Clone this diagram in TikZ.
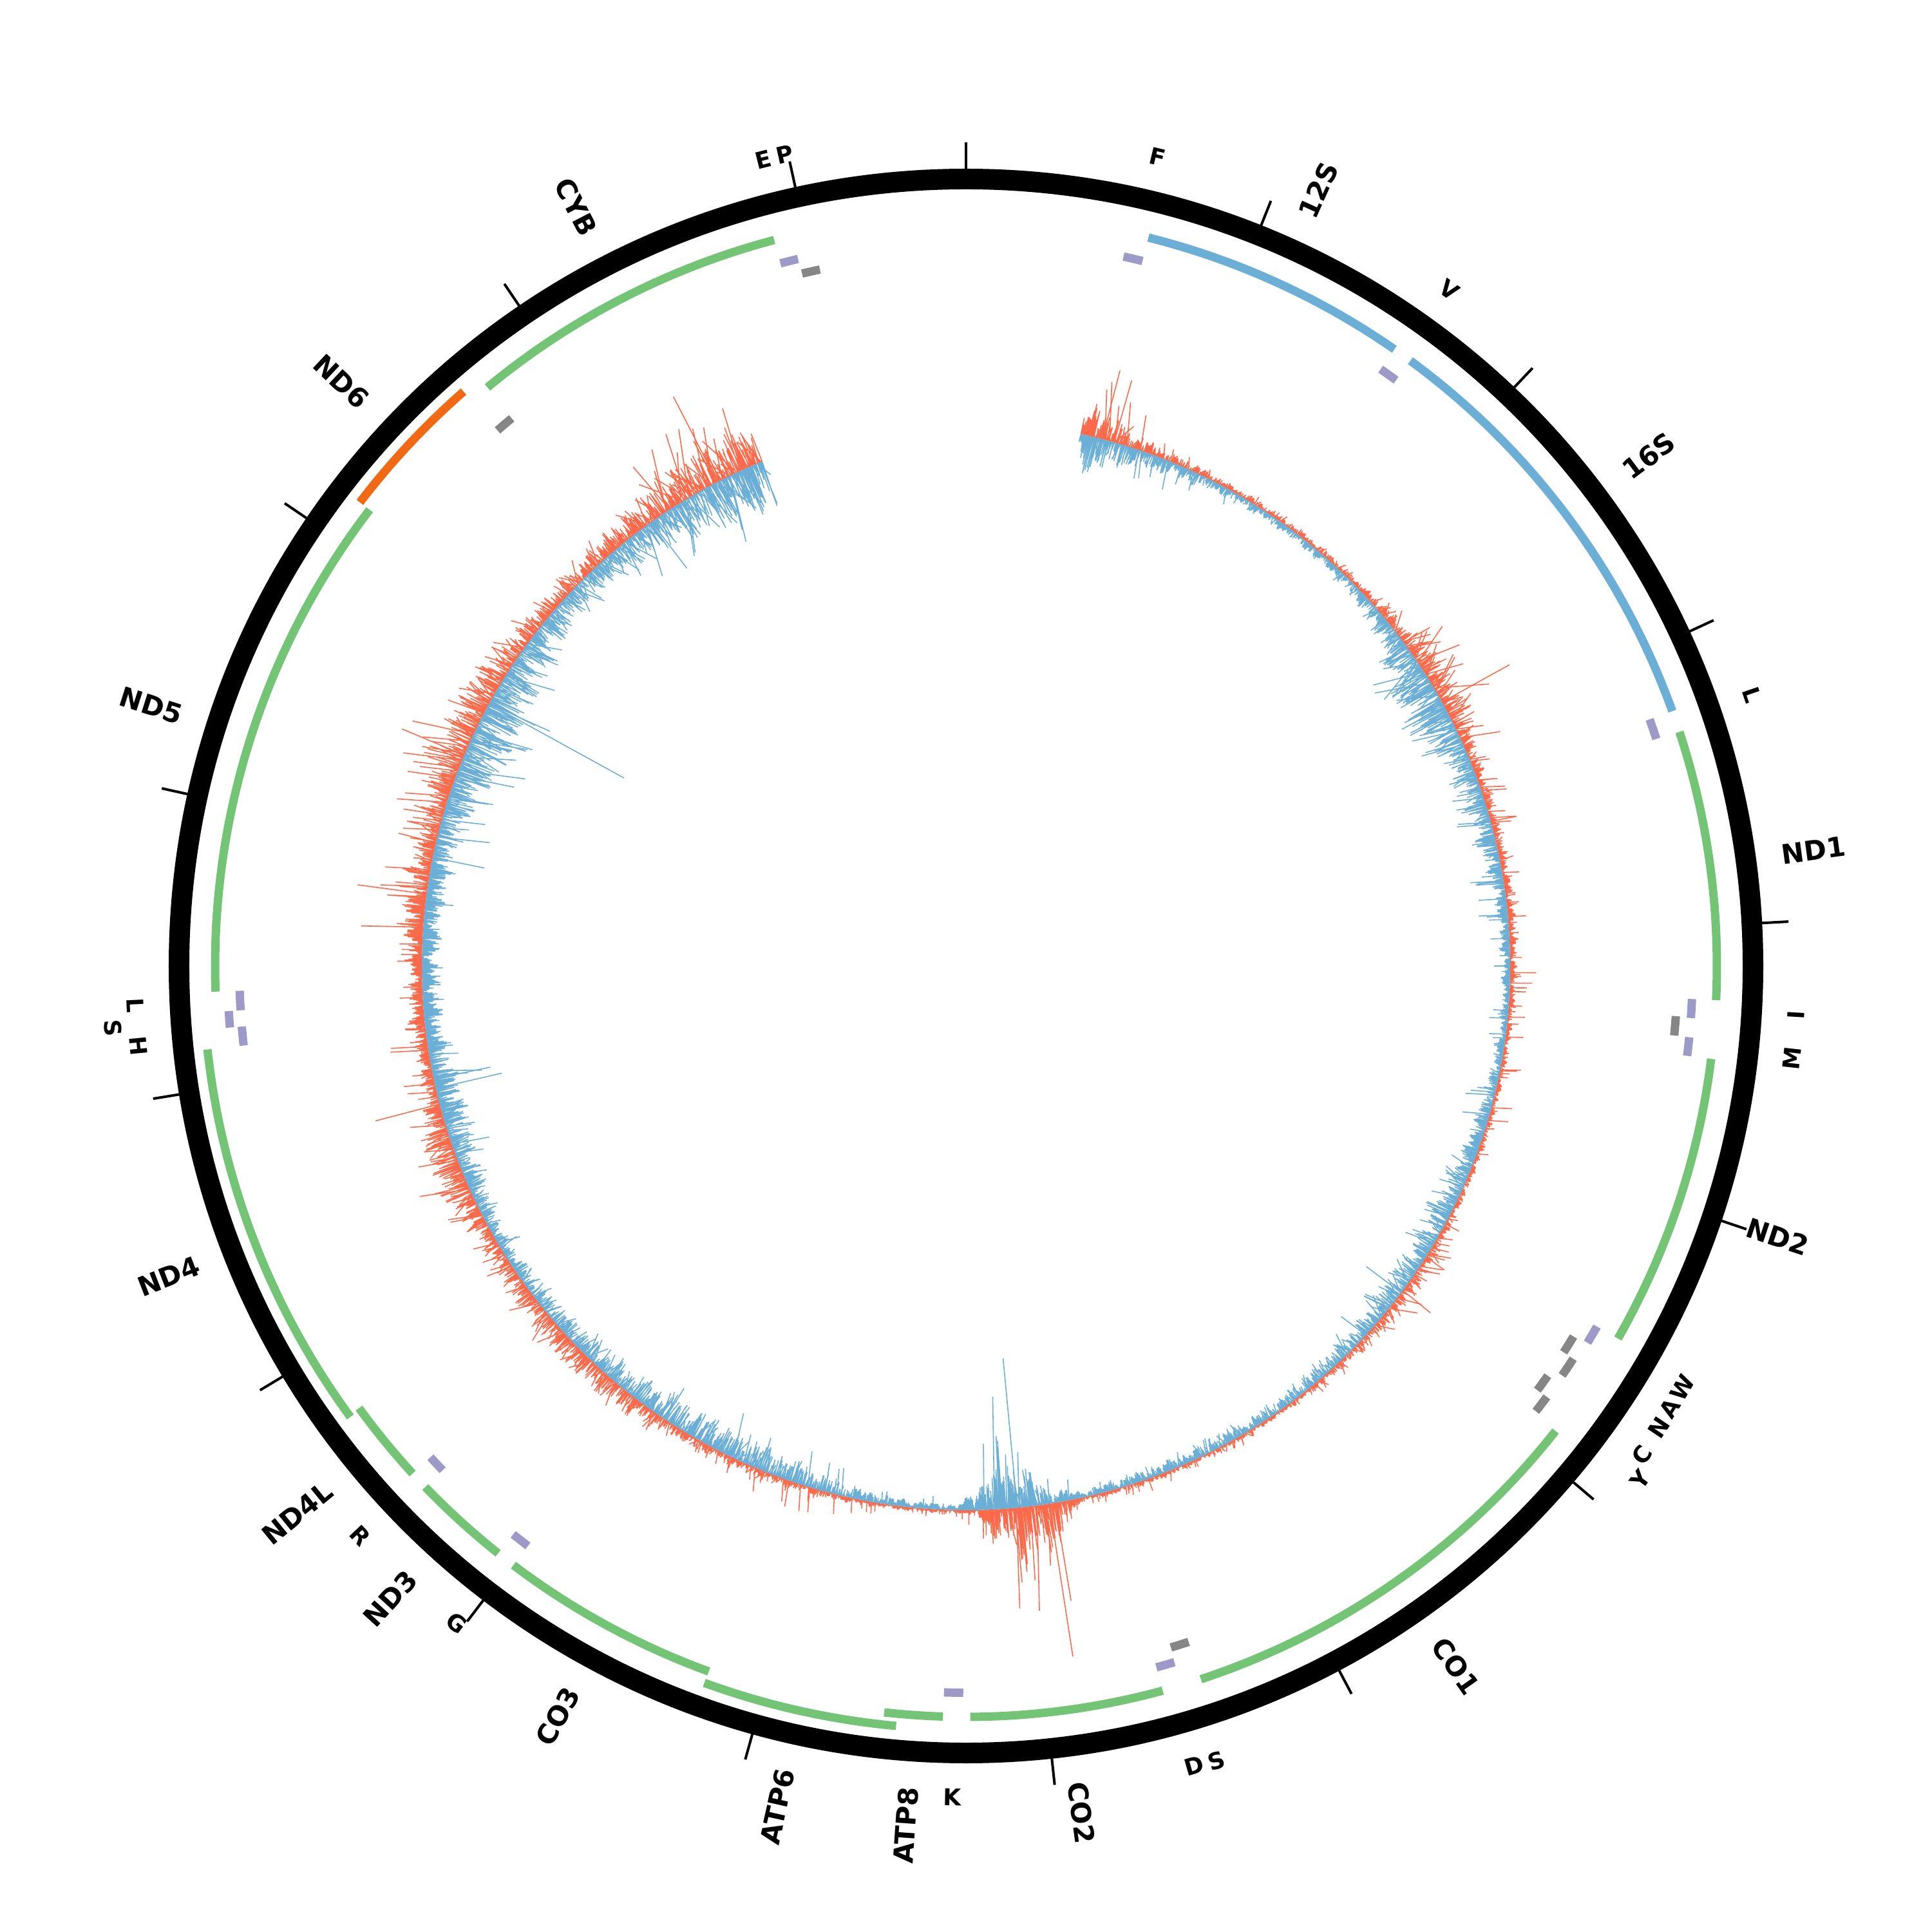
\documentclass[tikz,border=0pt]{standalone}
\usepackage{fontspec}
\setmainfont{DejaVu Sans}
\definecolor{gGreen}{HTML}{74C476}
\definecolor{gBlue}{HTML}{6BAED6}
\definecolor{gOrange}{HTML}{F16913}
\definecolor{gPurple}{HTML}{9E9AC8}
\definecolor{gGray}{HTML}{868686}
\definecolor{cRed}{HTML}{FB6A4A}
\definecolor{cBlue}{HTML}{6BAED6}
\tikzset{
  ringst/.style={line width=9.1pt},
  tickst/.style={line width=1.14pt},
  featbar/.style={line width=3.7pt},
  covr/.style={draw=cRed, line width=0.45pt},
  covb/.style={draw=cBlue, line width=0.45pt},
  genelbl/.style={font=\fontsize{12}{14}\selectfont\bfseries, inner sep=0pt},
  trnalbl/.style={font=\fontsize{10.2}{12}\selectfont\bfseries, inner sep=0pt},
}
% feature arc: start bp, end bp, radius, colour
\newcommand\gfeat[4]{\draw[featbar,#4] ({90-(#1-1)*0.0217273}:#3) arc[start angle={90-(#1-1)*0.0217273}, end angle={90-#2*0.0217273}, radius=#3];}
% gene label: name, angle, anchor, text
\newcommand\glabel[4]{%
  \pgfmathsetmacro\glrot{ifthenelse(#2>180,270-#2,90-#2)}%
  \node[genelbl, anchor=#3, rotate=\glrot] (#1) at ({90-#2}:12.78) {#4};}
% tRNA label: name, angle, radius, text
\newcommand\tlabel[4]{%
  \pgfmathsetmacro\tlrot{180-#2}%
  \pgfmathsetmacro\tlrot{ifthenelse(\tlrot>90,\tlrot-180,ifthenelse(\tlrot<-90,\tlrot+180,\tlrot))}%
  \node[trnalbl, rotate=\tlrot] (#1) at ({90-#2}:#3) {#4};}
\begin{document}
\begin{tikzpicture}
\useasboundingbox (-15,-15) rectangle (15,15);
\pgfmathsetseed{11}
% ---------- coverage plot ----------
\def\pa{12.1}\def\prb{25}\def\prs{100}\def\pbb{30}\def\pbs{60}
\foreach \ta/\rb/\rs/\bb/\bs in {
 14/30/120/35/60, 17/14/60/20/45, 22/7/25/13/30, 30/5/12/7/15, 45/5/15/7/15,
 52/10/40/18/40, 57/22/90/38/70, 62/22/100/42/70, 67/10/40/22/50, 75/7/40/18/45,
 82/7/30/13/35, 88/7/45/9/25, 95/5/25/7/20, 103/5/40/10/40, 110/5/20/15/40,
 117/5/15/22/55, 122/9/40/18/40, 128/10/55/18/40, 135/7/25/13/30, 145/4/15/10/25,
 155/4/15/10/20, 162/5/20/9/20, 168/4/15/7/15, 171/40/150/14/40, 174/55/180/40/120,
 177/28/100/40/130, 179/5/20/18/50, 181/3/10/5/10, 190/4/15/9/25, 198/7/40/18/35,
 205/7/30/22/40, 212/9/30/26/40, 220/18/40/18/35, 230/18/40/13/30, 240/13/35/11/30,
 247/26/70/18/40, 252/26/90/22/45, 256/13/50/26/100, 262/13/50/18/40, 270/13/50/16/40,
 277/22/100/18/50, 285/18/60/22/50, 292/26/70/36/80, 298/30/70/45/90, 305/18/50/26/60,
 315/13/40/18/40, 325/22/80/26/60, 332/35/130/40/80, 338/40/90/50/80}{
  \pgfmathtruncatemacro\nn{max(1,round((\ta-\pa)*10))}
  \draw[covr] foreach \i in {1,...,\nn}{
    ({90-\pa-(\ta-\pa)*\i/\nn}:8.45) -- ({90-\pa-(\ta-\pa)*\i/\nn}:{8.45+0.01*((\prb+(\rb-\prb)*\i/\nn)*max(0.15,1+0.3*sin(720*mod(\pa+(\ta-\pa)*\i/\nn,0.5))+0.3*sin(276.92*mod(\pa+(\ta-\pa)*\i/\nn,1.3)+40)+0.25*sin(116.13*mod(\pa+(\ta-\pa)*\i/\nn,3.1)+10)+0.35*(rnd-0.5))+(\prs+(\rs-\prs)*\i/\nn)*pow(rnd,16))})};
  \draw[covb] foreach \i in {1,...,\nn}{
    ({90-\pa-(\ta-\pa)*\i/\nn}:8.45) -- ({90-\pa-(\ta-\pa)*\i/\nn}:{8.45-0.01*((\pbb+(\bb-\pbb)*\i/\nn)*max(0.15,1+0.3*sin(600*mod(\pa+(\ta-\pa)*\i/\nn,0.6)+70)+0.3*sin(211.76*mod(\pa+(\ta-\pa)*\i/\nn,1.7)+150)+0.25*sin(97.3*mod(\pa+(\ta-\pa)*\i/\nn,3.7)+200)+0.35*(rnd-0.5))+(\pbs+(\bs-\pbs)*\i/\nn)*pow(rnd,16))})};
  \xdef\pa{\ta}\xdef\prb{\rb}\xdef\prs{\rs}\xdef\pbb{\bb}\xdef\pbs{\bs}
}
% notable spikes
\foreach \a/\r in {14.5/9.55, 15.8/9.45, 61/9.65, 171.2/10.85, 170.6/9.99, 174.8/9.61,
  255.3/9.48, 277.6/9.53, 292.8/9.50, 332.8/9.94}
  \draw[covr] ({90-\a}:8.45) -- ({90-\a}:\r);
\foreach \a/\r in {61.5/7.70, 126.9/7.77, 174.6/6.12, 176.2/7.39, 257/7.40, 258/7.55,
  281.5/7.63, 298.8/6.06}
  \draw[covb] ({90-\a}:8.45) -- ({90-\a}:\r);
% ---------- outer ring and ticks ----------
\draw[ringst] (0,0) circle (12.22);
\foreach \k in {0,...,16}
  \draw[tickst] ({90-\k*21.7273}:12.38) -- ({90-\k*21.7273}:12.79);
% ---------- genes ----------
\gfeat{648}{1601}{11.66}{gBlue}
\gfeat{1671}{3229}{11.66}{gBlue}
\gfeat{3307}{4262}{11.66}{gGreen}
\gfeat{4470}{5511}{11.66}{gGreen}
\gfeat{5904}{7445}{11.66}{gGreen}
\gfeat{7586}{8269}{11.66}{gGreen}
\gfeat{8366}{8572}{11.66}{gGreen}
\gfeat{8527}{9207}{11.85}{gGreen}
\gfeat{9207}{9990}{11.66}{gGreen}
\gfeat{10059}{10404}{11.66}{gGreen}
\gfeat{10470}{10766}{11.66}{gGreen}
\gfeat{10760}{12137}{11.85}{gGreen}
\gfeat{12337}{14148}{11.66}{gGreen}
\gfeat{14149}{14673}{11.85}{gOrange}
\gfeat{14747}{15887}{11.66}{gGreen}
% ---------- tRNAs ----------
\gfeat{577}{647}{11.285}{gPurple}
\gfeat{1602}{1670}{11.285}{gPurple}
\gfeat{3230}{3304}{11.285}{gPurple}
\gfeat{4263}{4331}{11.285}{gPurple}
\gfeat{4329}{4400}{11.05}{gGray}
\gfeat{4402}{4469}{11.285}{gPurple}
\gfeat{5512}{5579}{11.285}{gPurple}
\gfeat{5587}{5655}{11.05}{gGray}
\gfeat{5657}{5729}{11.23}{gGray}
\gfeat{5761}{5826}{11.05}{gGray}
\gfeat{5826}{5891}{11.23}{gGray}
\gfeat{7446}{7514}{11.05}{gGray}
\gfeat{7518}{7585}{11.285}{gPurple}
\gfeat{8295}{8364}{11.285}{gPurple}
\gfeat{9991}{10058}{11.285}{gPurple}
\gfeat{10405}{10469}{11.285}{gPurple}
\gfeat{12138}{12206}{11.285}{gPurple}
\gfeat{12207}{12265}{11.47}{gPurple}
\gfeat{12266}{12336}{11.285}{gPurple}
\gfeat{14674}{14742}{11.05}{gGray}
\gfeat{15888}{15953}{11.285}{gPurple}
\gfeat{15956}{16023}{11.05}{gGray}
% ---------- gene labels ----------
\glabel{l12S}{24.43}{west}{12S}
\glabel{l16S}{53.23}{west}{16S}
\glabel{lND1}{82.22}{west}{ND1}
\glabel{lND2}{108.43}{west}{ND2}
\glabel{lCO1}{145.02}{west}{CO1}
\glabel{lCO2}{172.24}{west}{CO2}
\glabel{lATP8}{184.0}{east}{ATP8}
\glabel{lATP6}{192.65}{east}{ATP6}
\glabel{lCO3}{208.55}{east}{CO3}
\glabel{lND3}{222.3}{east}{ND3}
\glabel{lND4L}{230.7}{east}{ND4L}
\glabel{lND4}{248.74}{east}{ND4}
\glabel{lND5}{287.72}{east}{ND5}
\glabel{lND6}{313.1}{east}{ND6}
\glabel{lCYB}{332.8}{east}{CYB}
% ---------- tRNA labels ----------
\tlabel{tF}{13.30}{12.91}{F}
\tlabel{tV}{35.55}{12.91}{V}
\tlabel{tLa}{70.98}{12.91}{L}
\tlabel{tI}{93.36}{12.91}{I}
\tlabel{tM}{96.37}{12.91}{M}
\tlabel{tW}{120.49}{12.91}{W}
\tlabel{tA}{122.13}{12.91}{A}
\tlabel{tN}{123.69}{12.93}{N}
\tlabel{tC}{125.88}{12.96}{C}
\tlabel{tY}{127.29}{13.16}{Y}
\tlabel{tSa}{162.52}{12.94}{S}
\tlabel{tD}{164.07}{12.91}{D}
\tlabel{tK}{180.97}{12.91}{K}
\tlabel{tG}{217.8}{12.91}{G}
\tlabel{tR}{226.77}{12.91}{R}
\tlabel{tH}{264.46}{12.91}{H}
\tlabel{tSb}{265.85}{13.28}{S}
\tlabel{tLb}{267.27}{12.91}{L}
\tlabel{tE}{345.9}{12.91}{E}
\tlabel{tP}{347.4}{12.91}{P}
\end{tikzpicture}
\end{document}
